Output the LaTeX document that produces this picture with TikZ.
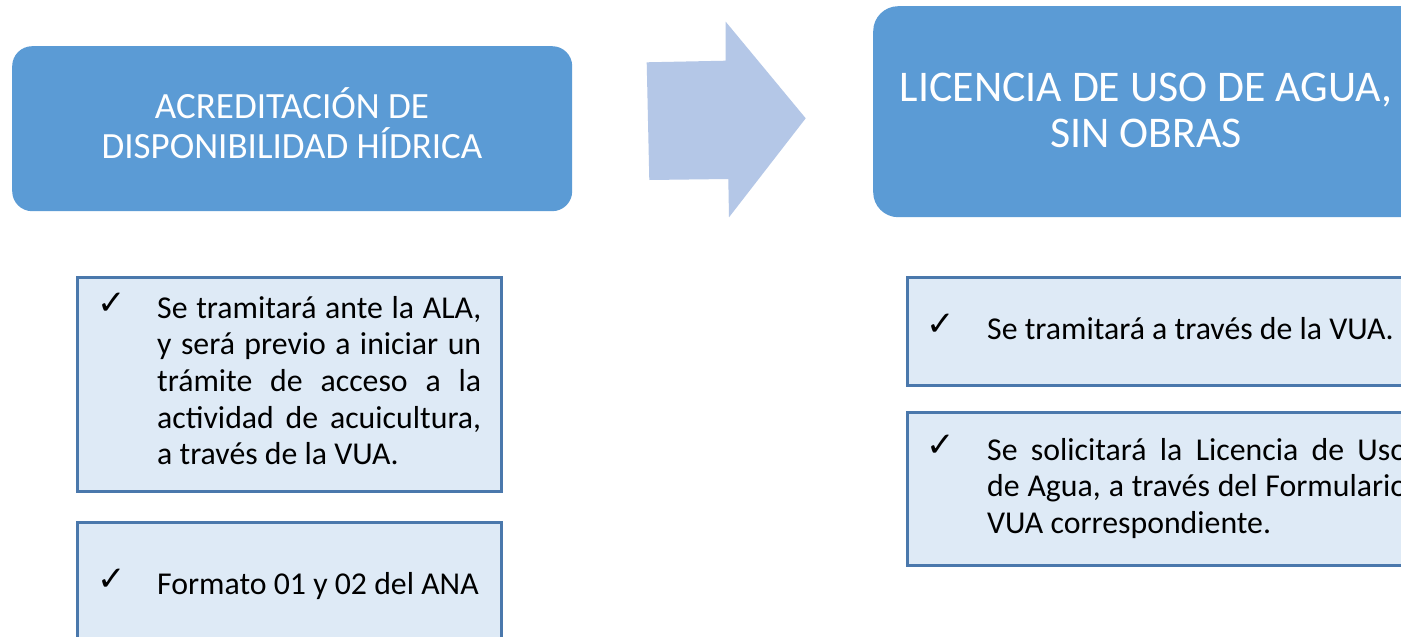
\documentclass[tikz,border=0pt]{standalone}
\usepackage{fontspec}
\setmainfont{Carlito}
\newfontfamily\symfont{DejaVu Sans}
\newcommand\natsp{\spaceskip=0pt\xspaceskip=0pt\relax}
\newcommand\fixsp{\spaceskip=\fontdimen2\font\relax\xspaceskip=\spaceskip\relax}
\definecolor{hdrblue}{HTML}{5B9BD5}
\definecolor{arrowblue}{HTML}{B4C7E7}
\definecolor{boxfill}{HTML}{DEEAF6}
\definecolor{boxline}{HTML}{4A78AC}
\tikzset{
  hdrbox/.style={draw=none, fill=hdrblue, rounded corners=#1, anchor=north west, inner sep=0pt},
  bodybox/.style={draw=boxline, fill=boxfill, line width=2.5pt, anchor=north west, inner sep=0pt},
  hdrtext/.style={text=white, inner sep=0pt, align=center, anchor=base},
  bodytext/.style={text=black, inner sep=0pt, align=left, text width=440pt, anchor=base west, font=\fontsize{31.8}{36.7}\selectfont},
  checkmark/.style={text=black, inner sep=0pt, anchor=base west, font=\symfont\fontsize{34}{34}\selectfont}
}
\begin{document}
\begin{tikzpicture}[x=1pt,y=-1pt]
\useasboundingbox (0,0) rectangle (1401,637);
\clip (0,0) rectangle (1401,637);
\fill[white] (0,0) rectangle (1401,637);

% headers
\node[hdrbox=20pt, minimum width=560pt, minimum height=165pt] (h1) at (12,46) {};
\node[hdrbox=25pt, minimum width=560pt, minimum height=211pt] (h2) at (873,6) {};
\node[hdrtext, text width=540pt, font=\fontsize{37}{40}\selectfont] (h1t) at (292,118)
  {\fixsp ACREDITACIÓN DE\\\fixsp DISPONIBILIDAD HÍDRICA};
\node[hdrtext, text width=540pt, font=\fontsize{43.8}{46}\selectfont] (h2t) at (1146,101)
  {\fixsp LICENCIA DE USO DE AGUA,\\\fixsp SIN OBRAS};

% arrow
\fill[arrowblue] (646.7,62.3) -- (725.7,60.7) -- (725.7,21.7) -- (805.7,118.3)
  -- (729,217.3) -- (728.3,179) -- (649.3,180) -- cycle;

% left body boxes
\node[bodybox, minimum width=424pt, minimum height=214pt] (b1) at (76,276) {};
\node[bodybox, minimum width=424pt, minimum height=160pt] (b2) at (76,521) {};
% right body boxes
\node[bodybox, minimum width=560pt, minimum height=108pt] (b3) at (906,276) {};
\node[bodybox, minimum width=560pt, minimum height=153pt] (b4) at (906,411) {};

% checks
\node[checkmark] (c1) at (97,314) {✓};
\node[checkmark] (c2) at (97,590) {✓};
\node[checkmark] (c3) at (926,335) {✓};
\node[checkmark] (c4) at (926,456) {✓};

% texts
\node[bodytext] (t1) at (157,318) {\natsp
  \makebox[324pt][s]{Se tramitará ante la ALA,}\\
  \makebox[324pt][s]{y será previo a iniciar un}\\
  \makebox[324pt][s]{trámite de acceso a la}\\
  \makebox[324pt][s]{actividad de acuicultura,}\\
  \fixsp a través de la VUA.};
\node[bodytext] (t2) at (157,594) {\fixsp Formato 01 y 02 del ANA};
\node[bodytext] (t3) at (987,339) {\fixsp Se tramitará a través de la VUA.};
\node[bodytext] (t4) at (987,460) {\natsp
  \makebox[420pt][s]{Se solicitará la Licencia de Uso}\\
  \makebox[420pt][s]{de Agua, a través del Formulario}\\
  \fixsp VUA correspondiente.};
\end{tikzpicture}
\end{document}
